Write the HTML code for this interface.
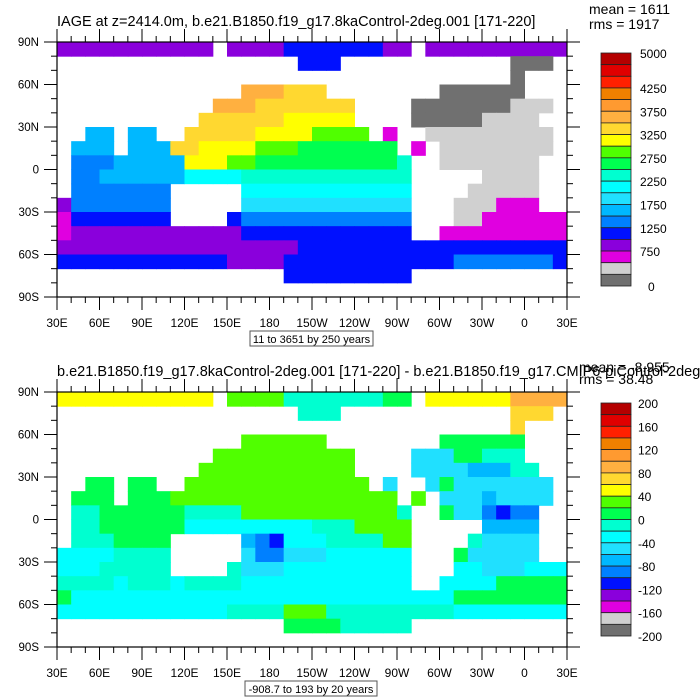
<!DOCTYPE html>
<html><head><meta charset="utf-8"><style>
body{margin:0;background:#fff}
svg{display:block;font-family:"Liberation Sans",sans-serif}
</style></head><body>
<svg id="c" width="700" height="700" viewBox="0 0 700 700"></svg>
<script>
const palette=['#707070','#d0d0d0','#e000e0','#8a00dc','#0010ff','#0080ff','#00b8ff','#20e0ff','#00ffff','#00ffd0','#00ff50','#50ff00','#ffff00','#ffd830','#ffb040','#ff9a30','#f08000','#ff2000','#e00000','#b40000'];
const codes='0123456789abcdefghij';
const topRows=[
"33333333333.3333444444433.3333333333",
".................444............000.",
"................................0...",
".............eeeddd........000000...",
"...........eeeddddddd....0000000111.",
"..........ddddddccccc....000001111..",
"..66.66..dddddccccbbbb.2..111111111.",
".666.666ddccccbbbaaaaaaa.2.11111111.",
".55566666cccbbaaaaaaaaaa9..1111111..",
".556666668888999999999999.....1111..",
".5555555.....888888888888....11111..",
"35555555.....777777777777...111222..",
"24444444....4555555555555...11222222",
"2333333333333444444444444..222222222",
"333333333333333334444444444444444444",
"444444444444333344444444444455555554",
"................444444444...........",
"...................................."];
const botRows=[
"ccccccccccc.bbbb9999999aa.cccccceeee",
".................999............ddd.",
"................................d...",
".............bbbbbb........aaaaaa...",
"...........bbbbbbbbbb....777aa999...",
"..........bbbbbbbbbbb....777766699..",
"..aa.aa..bbbbbbbbbbbbb.7..7a7777777.",
".aaa.aaabbbbbbbbbbbbbbbb.b.77767777.",
".99aaaaaa9999bbbbbbbbbbb9..a775455..",
".99aaaaaa888888888999bbbb.....6666..",
".999aaaa.....6548889999bb....97777..",
"88889999.....755777888888...a77777..",
"88899999....9777888888888...88777888",
"9999899989999888888888888..8888aaaaa",
"a888888888888888888888888888aaaaaaaa",
"8888888888889999bbb99999999988888888",
"................aaaa99999...........",
"...................................."];
const lonTicks=['30E','60E','90E','120E','150E','180','150W','120W','90W','60W','30W','0','30E'];
const latTicks=['90N','60N','30N','0','30S','60S','90S'];
const topCbLabels=['5000','4250','3750','3250','2750','2250','1750','1250','750','0'];
const topCbPos=[0,3,5,7,9,11,13,15,17,20];
const botCbLabels=['200','160','120','80','40','0','-40','-80','-120','-160','-200'];

const NS='http://www.w3.org/2000/svg';
const svg=document.getElementById('c');
function mk(tag,at,parent){const e=document.createElementNS(NS,tag);for(const k in at)e.setAttribute(k,at[k]);(parent||svg).appendChild(e);return e;}
function txt(s,at,parent){const e=mk('text',at,parent);e.textContent=s;return e;}

function panel(rows,y0,name,title,mean,rms,meanPos,cbLabels,cbPos,cbY,subtitle,subBox){
  const x0=57,x1=567,y1=y0+255;
  const g=mk('g',{});
  
  
  const lonX=l=>x0+(l-30)*(x1-x0)/360;
  const latY=l=>y0+(90-l)*(y1-y0)/180;
  const map=mk('g',{},g);
  
  
  rows.forEach((r,j)=>{
    for(let i=0;i<36;i++){
      const ch=r[i]; if(!ch||ch==='.')continue;
      const idx=codes.indexOf(ch); if(idx<0)continue;
      const xa=lonX(30+10*i),xb=lonX(40+10*i),ya=latY(90-10*j),yb=latY(80-10*j);
      const c=mk('rect',{x:xa.toFixed(2),y:ya.toFixed(2),width:(xb-xa+0.5).toFixed(2),height:(yb-ya+0.5).toFixed(2),fill:palette[idx]},map);
      
      
    }
  });
  const fr=mk('rect',{x:x0,y:y0,width:x1-x0,height:y1-y0,fill:'none',stroke:'#000','stroke-width':1.2},g);
  
  
  for(let l=30;l<=390;l+=10){
    const x=lonX(l),maj=(l-30)%30===0,len=maj?13:6;
    mk('line',{x1:x,x2:x,y1:y0,y2:y0-len,stroke:'#000','stroke-width':1},g);
    mk('line',{x1:x,x2:x,y1:y1,y2:y1+len,stroke:'#000','stroke-width':1},g);
  }
  for(let l=-90;l<=90;l+=10){
    const y=latY(l),maj=l%30===0,len=maj?13:6;
    mk('line',{x1:x0,x2:x0-len,y1:y,y2:y,stroke:'#000','stroke-width':1},g);
    mk('line',{x1:x1,x2:x1+len,y1:y,y2:y,stroke:'#000','stroke-width':1},g);
  }
  lonTicks.forEach((s,i)=>{const t=txt(s,{x:lonX(30+30*i),y:y1+30,'font-size':12,'text-anchor':'middle'},g);
    });
  latTicks.forEach((s,i)=>{const t=txt(s,{x:39,y:latY(90-30*i)+4,'font-size':11.5,'text-anchor':'end'},g);
    });
  const tt=txt(title,{x:x0,y:y0-16,'font-size':14.5},g);
  
  const m=txt(mean,{x:meanPos[0],y:meanPos[1],'font-size':14},g);
  
  const r=txt(rms,{x:meanPos[0],y:meanPos[2],'font-size':14},g);
  
  const cb=mk('g',{},g);
  
  
  const bh=233/20;
  for(let k=0;k<20;k++){
    const b=mk('rect',{x:601,y:(cbY+k*bh).toFixed(2),width:30,height:bh.toFixed(2),fill:palette[19-k],stroke:'#222','stroke-width':0.8},cb);
    
  }
  cbLabels.forEach((s,i)=>{const p=cbPos?cbPos[i]:i*2;
    const t=txt(s,{x:cbPos?(s==='0'?648:640):638,y:cbY+p*bh+5,'font-size':12},cb);
    });
  const sb=mk('rect',{x:subBox[0],y:y1+34,width:subBox[1],height:15,fill:'#fff',stroke:'#555','stroke-width':1},g);
  
  const st=txt(subtitle,{x:subBox[0]+subBox[1]/2,y:y1+46,'font-size':11,'text-anchor':'middle'},g);
  
}
panel(topRows,42,'top-panel','IAGE at z=2414.0m, b.e21.B1850.f19_g17.8kaControl-2deg.001 [171-220]','mean = 1611','rms = 1917',[589,14,29],topCbLabels,topCbPos,53,'11 to 3651 by 250 years',[250,123]);
panel(botRows,392,'bottom-panel','b.e21.B1850.f19_g17.8kaControl-2deg.001 [171-220] - b.e21.B1850.f19_g17.CMIP6-piControl-2deg.001','mean = -8.955','rms = 38.48',[579,372,384],botCbLabels,null,403,'-908.7 to 193 by 20 years',[245,132]);
</script>
</body></html>
